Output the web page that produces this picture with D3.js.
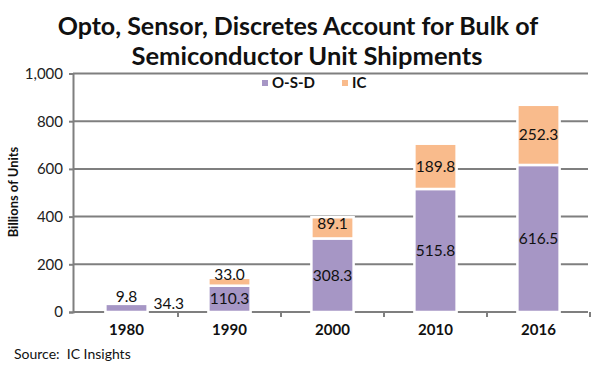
<!DOCTYPE html>
<html><head><meta charset="utf-8">
<script src="https://cdn.jsdelivr.net/npm/d3@7"></script>
<style>body{margin:0;background:#fff}svg{display:block;font-family:Lato,"Open Sans",sans-serif}</style>
</head><body><svg id="c" width="600" height="368"></svg>
<script>
const categories = ["1980","1990","2000","2010","2016"];
const osd = [34.3, 110.3, 308.3, 515.8, 616.5];
const ic = [9.8, 33.0, 89.1, 189.8, 252.3];
const seriesNames = ["O-S-D","IC"];
const yTicks = [0,200,400,600,800,1000];

const svg = d3.select("#c");
const x = d3.scaleBand().domain(categories).range([75,590]).paddingInner(0.59).paddingOuter(0.295);
const y = d3.scaleLinear().domain([0,1000]).range([312,73.5]);
const colors = {"O-S-D":"#a696c5","IC":"#f9bb8c"};
const grid = "#7f7f7f";

// title
svg.append("text").attr("x",298).attr("y",35).attr("text-anchor","middle")
  .attr("font-size",25).attr("font-weight","bold").attr("fill","#111")
  .text("Opto, Sensor, Discretes Account for Bulk of");
svg.append("text").attr("x",307).attr("y",65).attr("text-anchor","middle")
  .attr("font-size",25.5).attr("font-weight","bold").attr("fill","#111")
  .text("Semiconductor Unit Shipments");

// gridlines
svg.append("g").selectAll("line").data(yTicks.filter(d=>d>0)).join("line")
  .attr("x1",73).attr("x2",588).attr("y1",d=>y(d)).attr("y2",d=>y(d))
  .attr("stroke",grid).attr("stroke-width",2);

// y axis
const ya = svg.append("g").attr("transform","translate(73,0)")
  .call(d3.axisLeft(y).tickValues(yTicks).tickSize(4).tickFormat(d3.format(",")));
ya.select(".domain").attr("stroke",grid).attr("stroke-width",2);
ya.selectAll(".tick line").attr("stroke",grid).attr("stroke-width",2);
ya.selectAll(".tick text").attr("font-size",15).attr("fill","#222").attr("font-family","Lato,sans-serif").attr("x",-10);

// x axis
const xb = svg.append("g").attr("transform","translate(0,312)");
xb.append("line").attr("x1",73).attr("x2",588).attr("stroke",grid).attr("stroke-width",2);
const step = x.step();
const x0 = x(categories[0]) - step*x.paddingOuter();
xb.selectAll("line.t").data(categories).join("line").attr("class","t")
  .attr("x1",(d,i)=>x0 + (i+1)*step).attr("x2",(d,i)=>x0 + (i+1)*step)
  .attr("y1",0).attr("y2",5).attr("stroke",grid).attr("stroke-width",2);
xb.selectAll("text").data(categories).join("text")
  .attr("x",d=>x(d)+x.bandwidth()/2).attr("y",23).attr("text-anchor","middle")
  .attr("font-size",15).attr("font-weight","bold").attr("fill","#111").text(d=>d);

// stacked bars
const rows = categories.map((c,i)=>({cat:c,"O-S-D":osd[i],"IC":ic[i]}));
const stack = d3.stack().keys(seriesNames)(rows);
const bars = svg.append("g");
stack.forEach(s=>{
  bars.selectAll(null).data(s).join("rect")
    .attr("x",d=>x(d.data.cat)).attr("width",x.bandwidth())
    .attr("y",d=>y(d[1])).attr("height",d=>y(d[0])-y(d[1]))
    .attr("fill",colors[s.key]).attr("stroke","#fff").attr("stroke-width",2.5);
});

// labels
const lab = svg.append("g").attr("font-size",15.5).attr("fill","#111").attr("text-anchor","middle");
stack.forEach(s=>{
  s.forEach((d,i)=>{
    let cx = x(d.data.cat)+x.bandwidth()/2;
    let cy = (y(d[0])+y(d[1]))/2;
    const v = d[1]-d[0];
    if (i===0 && s.key==="O-S-D") { cx += x.bandwidth(); cy = y(d[0]) - 8; }
    else if (i===0 && s.key==="IC") { cy = y(d[1]) - 5; }
    else if (i===1 && s.key==="IC") { cy = y(d[1]) - 3; }
    else if (i===2 && s.key==="IC") { cy -= 4; }
    lab.append("text").attr("x",cx).attr("y",cy).attr("dy","0.35em").text(v.toFixed(1));
  });
});

// legend
const leg = svg.append("g").attr("font-size",15).attr("font-weight","bold").attr("fill","#111");
const lx = [262, 342];
seriesNames.forEach((n,i)=>{
  leg.append("rect").attr("x",lx[i]).attr("y",80).attr("width",6).attr("height",6).attr("fill",colors[n]);
  leg.append("text").attr("x",lx[i]+10).attr("y",88).text(n);
});

// y title
svg.append("text").attr("transform","translate(18,192) rotate(-90)").attr("text-anchor","middle")
  .attr("font-size",13).attr("font-weight","bold").attr("fill","#111").text("Billions of Units");

// source
svg.append("text").attr("x",14).attr("y",359).attr("font-size",14).attr("fill","#111")
  .style("white-space","pre").text("Source:  IC Insights");
</script></body></html>
